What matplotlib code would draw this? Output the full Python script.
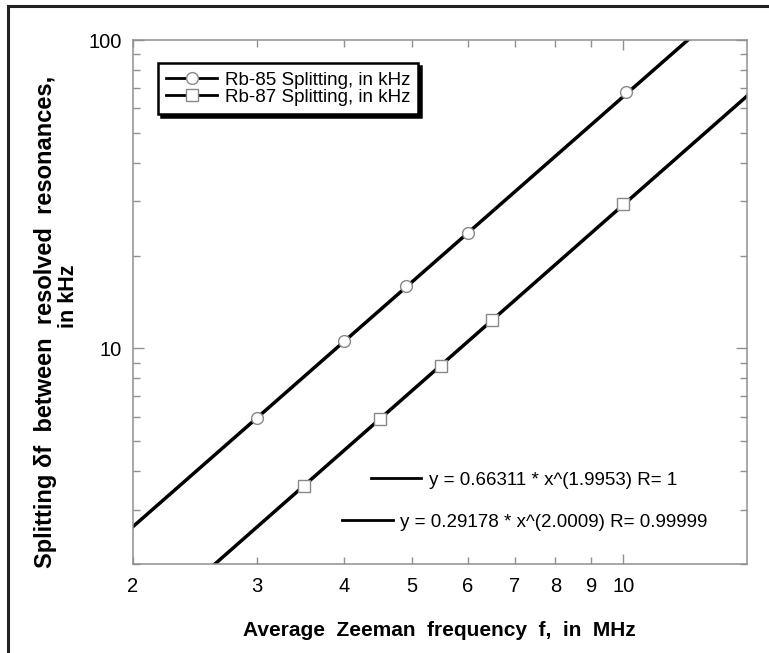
import numpy as np
import matplotlib
matplotlib.use("Agg")
import matplotlib.pyplot as plt
from matplotlib.ticker import FixedLocator, FixedFormatter
from matplotlib.lines import Line2D
from matplotlib.patches import Rectangle

plt.rcParams['font.family'] = ['Liberation Sans', 'DejaVu Sans']

# ---- data ----
rb85_f = [3.0, 4.0, 4.9, 6.0, 10.1]
rb85_split = [5.95, 10.6, 15.9, 23.7, 68.0]
rb87_f = [3.5, 4.5, 5.5, 6.5, 10.0]
rb87_split = [3.57, 5.9, 8.8, 12.4, 29.4]

fit85 = (0.66311, 1.9953)
fit87 = (0.29178, 2.0009)
fit85_label = "y = 0.66311 * x^(1.9953) R= 1"
fit87_label = "y = 0.29178 * x^(2.0009) R= 0.99999"
series_labels = ["Rb-85 Splitting, in kHz", "Rb-87 Splitting, in kHz"]

x_major = [10]
x_major_labels = ["10"]
x_minor = [2, 3, 4, 5, 6, 7, 8, 9]
x_minor_labels = ["2", "3", "4", "5", "6", "7", "8", "9"]
y_major = [10, 100]
y_major_labels = ["10", "100"]
y_minor = [2, 3, 4, 5, 6, 7, 8, 9, 20, 30, 40, 50, 60, 70, 80, 90]

W, H = 769, 653
fig = plt.figure(figsize=(W / 100, H / 100), dpi=100)
ax = fig.add_axes([133 / W, 1 - 564 / H, (747 - 133) / W, (564 - 40) / H])

ax.set_xscale('log')
ax.set_yscale('log')
ax.set_xlim(2, 15)
ax.set_ylim(2, 100)

xx = np.geomspace(2, 15, 200)
ax.plot(xx, fit85[0] * xx ** fit85[1], color='black', lw=2.5, zorder=2)
ax.plot(xx, fit87[0] * xx ** fit87[1], color='black', lw=2.5, zorder=2)

mk = dict(ls='none', mfc='white', mec='#888888', mew=1.0, zorder=3)
ax.plot(rb85_f, rb85_split, marker='o', ms=8.5, **mk)
ax.plot(rb87_f, rb87_split, marker='s', ms=8.5, **mk)

gray = '#909090'
for s in ax.spines.values():
    s.set_color(gray)
    s.set_linewidth(1.1)

ax.xaxis.set_major_locator(FixedLocator(x_major))
ax.xaxis.set_major_formatter(FixedFormatter(x_major_labels))
ax.xaxis.set_minor_locator(FixedLocator(x_minor))
ax.xaxis.set_minor_formatter(FixedFormatter(x_minor_labels))
ax.yaxis.set_major_locator(FixedLocator(y_major))
ax.yaxis.set_major_formatter(FixedFormatter(y_major_labels))
ax.yaxis.set_minor_locator(FixedLocator(y_minor))
ax.yaxis.set_minor_formatter(FixedFormatter([""] * len(y_minor)))

ax.tick_params(which='both', direction='in', top=True, right=True, color=gray,
               width=1.0, labelsize=14.5, labelcolor='black')
ax.tick_params(axis='x', which='major', length=7, pad=9)
ax.tick_params(axis='x', which='minor', length=5, pad=9)
ax.tick_params(axis='y', which='major', length=8, pad=8)
ax.tick_params(axis='y', which='minor', length=5, pad=8)

# legend
h85 = Line2D([], [], color='black', lw=2, marker='o', ms=8.5, mfc='white', mec='#888888', mew=1.0)
h87 = Line2D([], [], color='black', lw=2, marker='s', ms=8.5, mfc='white', mec='#888888', mew=1.0)
leg = ax.legend([h85, h87], series_labels, loc='upper left',
                bbox_to_anchor=((158 - 133) / 614, (564 - 63) / 524), borderaxespad=0,
                fontsize=13.5, fancybox=False, shadow={'color': 'black', 'alpha': 1},
                edgecolor='black', framealpha=1, handlelength=2.7, handletextpad=0.4,
                labelspacing=0.0, borderpad=0.45)
leg.get_frame().set_linewidth(1.8)
ax.add_artist(leg)

# fit annotations
fl1 = ax.legend([Line2D([], [], color='black', lw=2)], [fit85_label], loc='center',
                bbox_to_anchor=((524 - 133) / 614, (564 - 480) / 524), frameon=False,
                fontsize=13.5, handlelength=2.7, handletextpad=0.4, borderaxespad=0, borderpad=0)
ax.add_artist(fl1)
fl2 = ax.legend([Line2D([], [], color='black', lw=2)], [fit87_label], loc='center',
                bbox_to_anchor=((525 - 133) / 614, (564 - 522) / 524), frameon=False,
                fontsize=13.5, handlelength=2.7, handletextpad=0.4, borderaxespad=0, borderpad=0)

# axis labels
fig.text(439 / W, 1 - 630 / H, "Average  Zeeman  frequency  f,  in  MHz",
         ha='center', va='center', fontsize=15, fontweight='bold')
fig.text(46 / W, 1 - 322 / H, "Splitting δf  between  resolved  resonances,",
         ha='center', va='center', rotation=90, fontsize=17, fontweight='bold')
fig.text(68 / W, 1 - 296 / H, "in kHz",
         ha='center', va='center', rotation=90, fontsize=15.5, fontweight='bold')

# outer frame
fig.patches.append(Rectangle((8 / W, -0.05), 1.2, 1 - 6 / H + 0.05, transform=fig.transFigure,
                             fill=False, edgecolor='#222222', lw=2.2))

fig.savefig('out.png', dpi=100)
